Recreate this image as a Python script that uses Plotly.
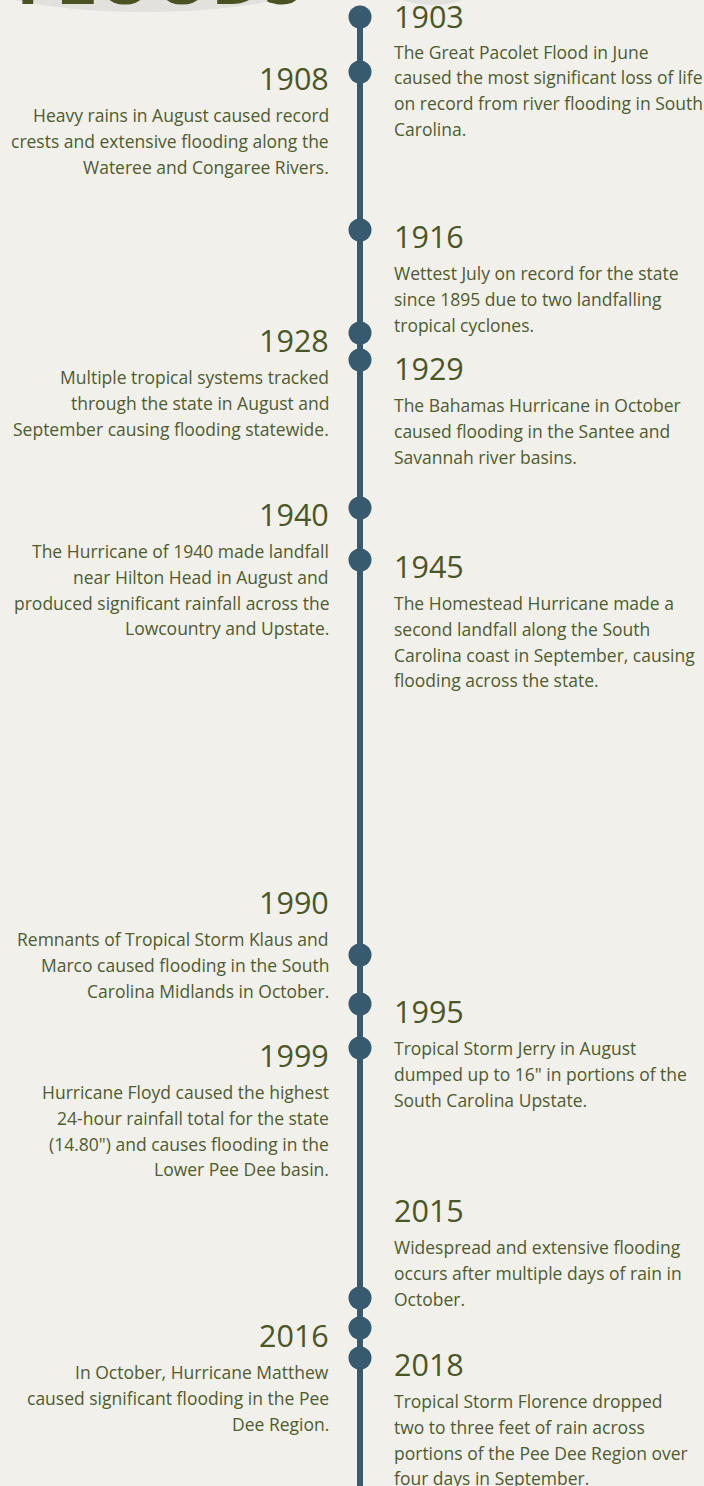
import plotly.graph_objects as go

# ---- data ----
years = ["1903", "1908", "1916", "1928", "1929", "1940", "1945",
         "1990", "1995", "1999", "2015", "2016", "2018"]
sides = ["right", "left", "right", "left", "right", "left", "right",
         "left", "right", "left", "right", "left", "right"]
descriptions = [
    ["The Great Pacolet Flood in June", "caused the most significant loss of life",
     "on record from river flooding in South", "Carolina."],
    ["Heavy rains in August caused record", "crests and extensive flooding along the",
     "Wateree and Congaree Rivers."],
    ["Wettest July on record for the state", "since 1895 due to two landfalling",
     "tropical cyclones."],
    ["Multiple tropical systems tracked", "through the state in August and",
     "September causing flooding statewide."],
    ["The Bahamas Hurricane in October", "caused flooding in the Santee and",
     "Savannah river basins."],
    ["The Hurricane of 1940 made landfall", "near Hilton Head in August and",
     "produced significant rainfall across the", "Lowcountry and Upstate."],
    ["The Homestead Hurricane made a", "second landfall along the South",
     "Carolina coast in September, causing", "flooding across the state."],
    ["Remnants of Tropical Storm Klaus and", "Marco caused flooding in the South",
     "Carolina Midlands in October."],
    ["Tropical Storm Jerry in August", "dumped up to 16\" in portions of the",
     "South Carolina Upstate."],
    ["Hurricane Floyd caused the highest", "24-hour rainfall total for the state",
     "(14.80\") and causes flooding in the", "Lower Pee Dee basin."],
    ["Widespread and extensive flooding", "occurs after multiple days of rain in",
     "October."],
    ["In October, Hurricane Matthew", "caused significant flooding in the Pee",
     "Dee Region."],
    ["Tropical Storm Florence dropped", "two to three feet of rain across",
     "portions of the Pee Dee Region over", "four days in September."],
]
title_text = "FLOODS"

# ---- layout (timeline positions in page pixels) ----
W, H = 704, 1486
dot_y = [17, 72, 230, 333, 360, 508, 560, 955, 1004, 1048, 1298, 1328, 1358]
label_y = [16, 78, 236, 340, 368, 514, 566, 902, 1011, 1055, 1210, 1335, 1364]
desc_offset = [35.5, 37, 37, 37, 37, 37, 37, 37, 37, 37, 37, 37, 37]
LINE_X = 360
RIGHT_X = 392
LEFT_X = 331
LINE_GAP = 25.8

BG = "#f1f0eb"
LINE_COL = "#385a6e"
YEAR_COL = "#4b5626"
TEXT_COL = "#4f5b30"
FONT = "Open Sans"

fig = go.Figure()

# gray blob behind title
fig.add_shape(type="circle", xref="x", yref="y", x0=-40, x1=330, y0=-70, y1=12,
              fillcolor="#e2e1dd", line_width=0, layer="below")
fig.add_shape(type="circle", xref="x", yref="y", x0=385, x1=480, y0=-40, y1=5,
              fillcolor="#e2e1dd", line_width=0, layer="below")

# vertical line
fig.add_trace(go.Scatter(x=[LINE_X, LINE_X], y=[dot_y[0], H + 10], mode="lines",
                         line=dict(color=LINE_COL, width=6), hoverinfo="skip",
                         showlegend=False))
# dots
fig.add_trace(go.Scatter(x=[LINE_X] * len(dot_y), y=dot_y, mode="markers",
                         marker=dict(color=LINE_COL, size=23, line_width=0),
                         text=years, hoverinfo="text", showlegend=False))

annotations = []
annotations.append(dict(x=14 / W, y=1 + 24 / H, xref="paper", yref="paper",
                        text="<b>%s</b>" % title_text,
                        showarrow=False, xanchor="left", yanchor="middle",
                        font=dict(family=FONT, size=72, color="#4a5221")))

for yr, side, desc, ly, off in zip(years, sides, descriptions, label_y, desc_offset):
    if side == "right":
        xa, xanc = RIGHT_X, "left"
    else:
        xa, xanc = LEFT_X, "right"
    annotations.append(dict(x=xa, y=ly, xref="x", yref="y", text=yr, showarrow=False,
                            xanchor=xanc, yanchor="middle", align=xanc,
                            font=dict(family=FONT, size=30.5, color=YEAR_COL)))
    for i, line in enumerate(desc):
        annotations.append(dict(x=xa, y=ly + off + i * LINE_GAP, xref="x", yref="y",
                                text=line, showarrow=False, xanchor=xanc,
                                yanchor="middle", align=xanc,
                                font=dict(family=FONT, size=17.5, color=TEXT_COL)))

fig.update_layout(
    width=W, height=H, autosize=False,
    margin=dict(l=0, r=0, t=0, b=0, pad=0),
    paper_bgcolor=BG, plot_bgcolor=BG,
    xaxis=dict(range=[0, W], visible=False, fixedrange=True),
    yaxis=dict(range=[H, 0], visible=False, fixedrange=True),
    annotations=annotations,
    showlegend=False,
)

fig.write_html("out.html", config={"displayModeBar": False},
               post_script="document.body.style.margin='0';document.body.style.overflow='hidden';"
                           "document.body.style.background='%s';" % BG)
